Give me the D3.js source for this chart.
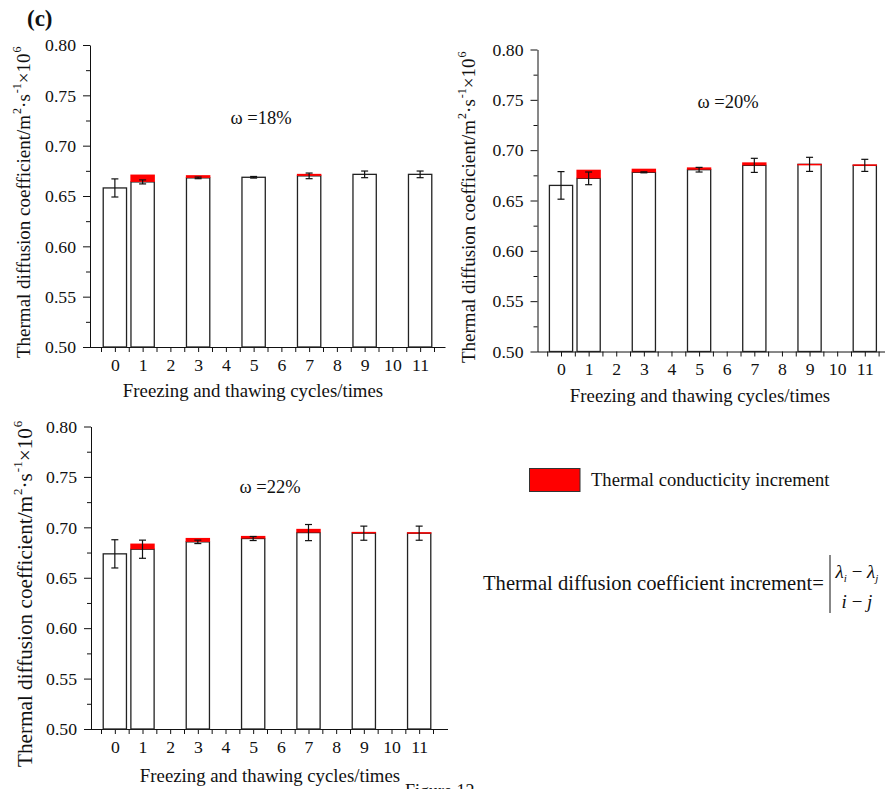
<!DOCTYPE html>
<html>
<head>
<meta charset="utf-8">
<script src="https://cdn.jsdelivr.net/npm/d3@7"></script>
<style>
  body { margin: 0; background: #fff; }
  svg text { font-family: "Liberation Serif", "DejaVu Serif", serif; fill: #111; }
  .axis path, .axis line { stroke: #111; }
</style>
</head>
<body>
<div id="chart"></div>
<script>
// cycles that have a bar; the axis shows 0..11
const cycles = [0, 1, 3, 5, 7, 9, 11];
const yTicks = [0.50, 0.55, 0.60, 0.65, 0.70, 0.75, 0.80];

// ω = 18%
const base18 = [0.658, 0.664, 0.668, 0.6686, 0.670, 0.6715, 0.6715];
const inc18  = [0, 0.0073, 0.0027, 0, 0.002, 0, 0];
const err18  = [0.009, 0.002, 0.0008, 0.0008, 0.0028, 0.0033, 0.0033];

// ω = 20%
const base20 = [0.665, 0.672, 0.678, 0.6806, 0.6849, 0.6859, 0.6849];
const inc20  = [0, 0.0086, 0.0036, 0.0023, 0.003, 0.0005, 0.001];
const err20  = [0.0137, 0.0063, 0.0005, 0.0023, 0.007, 0.007, 0.006];

// ω = 22%
const base22 = [0.6737, 0.6783, 0.6856, 0.6889, 0.6948, 0.6942, 0.6942];
const inc22  = [0, 0.0056, 0.0039, 0.0026, 0.0037, 0.0013, 0.001];
const err22  = [0.014, 0.009, 0.0017, 0.002, 0.008, 0.007, 0.007];

const serif = "Liberation Serif, DejaVu Serif, serif";

const svg = d3.select("#chart").append("svg")
    .attr("width", 885)
    .attr("height", 789);

function drawPanel(p) {
    let g = svg.append("g");

    let y = d3.scaleLinear().domain([0.5, 0.8]).range([p.bottom, p.top]);
    let x = d3.scaleLinear().domain([-0.5, 11.5]).range(p.xr);
    let step = x(1) - x(0);
    let bw = step * 0.84;

    // y axis, minor then major
    g.append("g")
        .attr("class", "axis")
        .attr("transform", `translate(${p.left},0)`)
        .call(d3.axisLeft(y).tickValues(d3.range(0.525, 0.8, 0.05)).tickSize(4).tickFormat(""))
        .call(s => s.select(".domain").remove());
    g.append("g")
        .attr("class", "axis")
        .attr("transform", `translate(${p.left},0)`)
        .call(d3.axisLeft(y).tickValues(yTicks).tickSize(7).tickSizeOuter(0).tickPadding(7).tickFormat(d3.format(".2f")))
        .attr("font-family", serif)
        .call(s => s.selectAll("text").style("font-size", "17.7px"));

    // x axis: ticks at every cycle and halfway between
    g.append("g")
        .attr("class", "axis")
        .attr("transform", `translate(0,${p.bottom})`)
        .call(d3.axisBottom(x).tickValues(d3.range(-0.5, 12, 0.5)).tickSize(5).tickSizeOuter(0).tickPadding(6)
            .tickFormat(d => Number.isInteger(d) ? d : ""))
        .attr("font-family", serif)
        .call(s => s.select(".domain").attr("d", `M${p.left},0.5H${p.right}`))
        .call(s => s.selectAll("text").style("font-size", "17.7px"));

    let rows = cycles.map((c, i) => ({c: c, v: p.base[i], inc: p.inc[i], e: p.err[i]}));

    // bars
    g.selectAll(".bar").data(rows).enter().append("rect")
        .attr("class", "bar")
        .attr("x", d => x(d.c) - bw / 2)
        .attr("y", d => y(d.v))
        .attr("width", bw)
        .attr("height", d => y(0.5) - y(d.v))
        .attr("fill", "#fff")
        .attr("stroke", "#222")
        .attr("stroke-width", 1.3);

    // red increments
    g.selectAll(".inc").data(rows.filter(d => d.inc > 0)).enter().append("rect")
        .attr("class", "inc")
        .attr("x", d => x(d.c) - bw / 2 - 0.6)
        .attr("y", d => y(d.v + d.inc))
        .attr("width", bw + 1.2)
        .attr("height", d => Math.max(1.5, y(d.v) - y(d.v + d.inc)))
        .attr("fill", "#ff0000");

    // error bars
    let eb = g.selectAll(".err").data(rows).enter().append("g").attr("class", "err")
        .attr("stroke", "#111").attr("stroke-width", 1.2);
    eb.append("line")
        .attr("x1", d => x(d.c)).attr("x2", d => x(d.c))
        .attr("y1", d => y(d.v - d.e)).attr("y2", d => y(d.v + d.e));
    eb.append("line")
        .attr("x1", d => x(d.c) - 3.5).attr("x2", d => x(d.c) + 3.5)
        .attr("y1", d => y(d.v + d.e)).attr("y2", d => y(d.v + d.e));
    eb.append("line")
        .attr("x1", d => x(d.c) - 3.5).attr("x2", d => x(d.c) + 3.5)
        .attr("y1", d => y(d.v - d.e)).attr("y2", d => y(d.v - d.e));

    // moisture label
    g.append("text")
        .attr("x", p.omega[0]).attr("y", p.omega[1])
        .attr("text-anchor", "middle")
        .style("font-size", "18.5px")
        .text(p.label);

    // x label
    g.append("text")
        .attr("x", p.xlab[0]).attr("y", p.xlab[1])
        .attr("text-anchor", "middle")
        .style("font-size", "18.8px")
        .text("Freezing and thawing cycles/times");

    // y label
    let sup = Math.round(p.yfs * 0.63) + "px";
    let up = p.yfs * 0.45;
    let yl = g.append("text")
        .attr("transform", `translate(${p.ylab[0]},${p.ylab[1]}) rotate(-90)`)
        .attr("text-anchor", "start")
        .style("font-size", p.yfs + "px");
    yl.append("tspan").text("Thermal diffusion coefficient/m");
    yl.append("tspan").attr("dx", 1).attr("dy", -up).style("font-size", sup).text("2");
    yl.append("tspan").attr("dy", up).text("·s");
    yl.append("tspan").attr("dx", 1).attr("dy", -up).style("font-size", sup).text("-1");
    yl.append("tspan").attr("dy", up).text("×10");
    yl.append("tspan").attr("dx", 1).attr("dy", -up).style("font-size", sup).text("6");
}

drawPanel({left: 90, right: 445.5, top: 45, bottom: 347, xr: [101, 434],
    base: base18, inc: inc18, err: err18, label: "ω =18%", omega: [261, 124],
    xlab: [253, 397], ylab: [30, 358], yfs: 19});

drawPanel({left: 537.5, right: 885, top: 49.5, bottom: 351.5, xr: [547.2, 878.6],
    base: base20, inc: inc20, err: err20, label: "ω =20%", omega: [728, 108],
    xlab: [700, 402], ylab: [475, 363], yfs: 19});

drawPanel({left: 91, right: 448, top: 426.5, bottom: 729, xr: [101, 433],
    base: base22, inc: inc22, err: err22, label: "ω =22%", omega: [270, 493],
    xlab: [270, 782], ylab: [32, 767], yfs: 21.2});

// panel letter
svg.append("text")
    .attr("x", 27).attr("y", 26)
    .style("font-size", "23px").style("font-weight", "bold")
    .text("(c)");

// legend
svg.append("rect")
    .attr("x", 529.5).attr("y", 468.5)
    .attr("width", 50.5).attr("height", 23)
    .attr("fill", "#ff0000").attr("stroke", "#333").attr("stroke-width", 1);
svg.append("text")
    .attr("x", 591).attr("y", 485.5)
    .style("font-size", "18.6px")
    .text("Thermal conducticity increment");

// formula
svg.append("text")
    .attr("x", 483).attr("y", 590)
    .style("font-size", "20.6px")
    .text("Thermal diffusion coefficient increment=");
svg.append("line")
    .attr("x1", 830).attr("x2", 830).attr("y1", 555).attr("y2", 613)
    .attr("stroke", "#111").attr("stroke-width", 1);
let num = svg.append("text")
    .attr("x", 857).attr("y", 578)
    .attr("text-anchor", "middle")
    .style("font-size", "19px");
num.append("tspan").style("font-style", "italic").text("λ");
num.append("tspan").attr("dy", 4).style("font-size", "11px").style("font-style", "italic").text("i");
num.append("tspan").attr("dy", -4).text(" − ");
num.append("tspan").style("font-style", "italic").text("λ");
num.append("tspan").attr("dy", 4).style("font-size", "11px").style("font-style", "italic").text("j");
let den = svg.append("text")
    .attr("x", 857).attr("y", 608)
    .attr("text-anchor", "middle")
    .style("font-size", "19px");
den.append("tspan").style("font-style", "italic").text("i");
den.append("tspan").text(" − ");
den.append("tspan").style("font-style", "italic").text("j");

// caption cut at the bottom edge, as in the source
svg.append("text")
    .attr("x", 405).attr("y", 797)
    .style("font-size", "18px")
    .text("Figure 12");
</script>
</body>
</html>
